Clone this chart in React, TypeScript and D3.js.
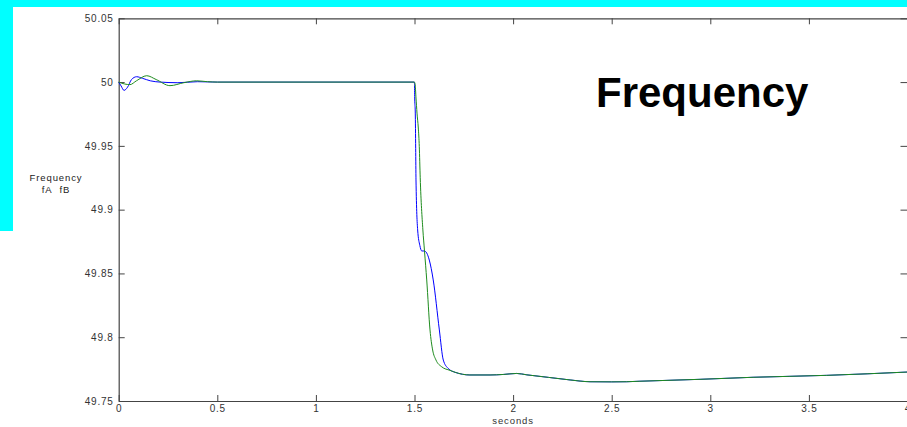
import { useEffect, useRef } from "react";
import * as d3 from "d3";

// fA (blue) - time in seconds, frequency in Hz
const timeA = [
  0, 0.012, 0.027, 0.045, 0.065, 0.091, 0.12, 0.16, 0.21, 0.3, 0.4, 0.5, 1.499,
  1.5, 1.501, 1.504, 1.506, 1.5076, 1.516, 1.527, 1.537, 1.55, 1.562, 1.575, 1.595,
  1.626, 1.646, 1.671, 1.706, 1.781, 1.883, 1.95, 2.018, 2.07, 2.18, 2.289, 2.39,
  2.5, 2.576, 2.643, 2.948, 3.217, 3.59, 4.0,
];
const freqA = [
  50, 49.997, 49.9935, 49.996, 50.002, 50.0042, 50.003, 50.001, 50.0, 49.9995, 50.0003, 50.0, 50.0,
  49.998, 49.9875, 49.9757, 49.948, 49.9233, 49.8841, 49.872, 49.8676, 49.8676, 49.866, 49.8605, 49.8449,
  49.8057, 49.7821, 49.7755, 49.7725, 49.7704, 49.7704, 49.7708, 49.7716, 49.7705, 49.7685, 49.7665, 49.7651,
  49.765, 49.7651, 49.7655, 49.767, 49.7686, 49.7701, 49.7727,
];

// fB (green)
const timeB = [
  0, 0.03, 0.057, 0.09, 0.142, 0.19, 0.26, 0.33, 0.395, 0.45, 0.5, 1.499,
  1.503, 1.5076, 1.5127, 1.5193, 1.5243, 1.529, 1.5425, 1.5507, 1.562, 1.5786, 1.592,
  1.609, 1.638, 1.68, 1.706, 1.781, 1.883, 1.95, 2.018, 2.07, 2.18, 2.289, 2.39,
  2.5, 2.576, 2.643, 2.948, 3.217, 3.59, 4.0,
];
const freqB = [
  50, 49.9985, 49.998, 50.001, 50.005, 50.002, 49.9972, 49.9995, 50.001, 50.0003, 50.0, 50.0,
  49.9985, 49.9875, 49.9757, 49.964, 49.9494, 49.925, 49.8841, 49.8676, 49.8449, 49.8057, 49.79,
  49.7821, 49.7768, 49.774, 49.7725, 49.7704, 49.7704, 49.7708, 49.7716, 49.7705, 49.7685, 49.7665, 49.7651,
  49.765, 49.7651, 49.7655, 49.767, 49.7686, 49.7701, 49.7727,
];

const xTicks = [0, 0.5, 1, 1.5, 2, 2.5, 3, 3.5, 4];
const yTicks = [49.75, 49.8, 49.85, 49.9, 49.95, 50, 50.05];

const W = 907;
const H = 427;

export default function App() {
  const svgRef = useRef<SVGSVGElement>(null);

  useEffect(() => {
    if (!svgRef.current) return;
    const svg = d3.select(svgRef.current);
    svg.selectAll("*").remove();

    const left = 118.7;
    const right = 907.5;
    const top = 18.3;
    const bottom = 401;

    const x = d3.scaleLinear().domain([0, 4]).range([left, right]);
    const y = d3.scaleLinear().domain([49.75, 50.05]).range([bottom, top]);

    // background + cyan frame
    svg.append("rect").attr("width", W).attr("height", H).attr("fill", "#ffffff");
    svg.append("rect").attr("width", W).attr("height", 7).attr("fill", "#00ffff");
    svg.append("rect").attr("width", 13).attr("height", 231).attr("fill", "#00ffff");

    const axisColor = "#444";
    const fmt = (d: d3.NumberValue) => String(d);

    // bottom axis
    const gx = svg
      .append("g")
      .attr("transform", `translate(0,${bottom})`)
      .call(d3.axisBottom(x).tickValues(xTicks).tickSizeInner(-6).tickSizeOuter(0).tickPadding(5).tickFormat(fmt));
    // top axis (ticks only)
    const gxt = svg
      .append("g")
      .attr("transform", `translate(0,${top})`)
      .call(d3.axisTop(x).tickValues(xTicks).tickSizeInner(-6).tickSizeOuter(0).tickFormat(() => ""));
    // left axis
    const gy = svg
      .append("g")
      .attr("transform", `translate(${left},0)`)
      .call(d3.axisLeft(y).tickValues(yTicks).tickSizeInner(-6).tickSizeOuter(0).tickPadding(5).tickFormat(fmt));
    // right axis (ticks only)
    const gyr = svg
      .append("g")
      .attr("transform", `translate(${right},0)`)
      .call(d3.axisRight(y).tickValues(yTicks).tickSizeInner(-7).tickSizeOuter(0).tickFormat(() => ""));

    [gx, gxt, gy, gyr].forEach((g) => {
      g.select(".domain").attr("stroke", axisColor).attr("stroke-width", 1.2);
      g.selectAll(".tick line").attr("stroke", axisColor);
      g.selectAll("text")
        .attr("fill", "#333")
        .attr("font-family", "Liberation Sans, Arial, sans-serif")
        .attr("font-size", 10)
        .attr("letter-spacing", 0.8);
    });
    gx.selectAll(".tick text").attr("dy", "0.6em");

    const line = d3
      .line<[number, number]>()
      .x((d) => x(d[0]))
      .y((d) => y(d[1]))
      .curve(d3.curveMonotoneX);

    const ptsA = timeA.map((t, i) => [t, freqA[i]] as [number, number]);
    const ptsB = timeB.map((t, i) => [t, freqB[i]] as [number, number]);

    svg.append("path").attr("d", line(ptsA)).attr("fill", "none").attr("stroke", "#0000ff").attr("stroke-width", 1);
    svg.append("path").attr("d", line(ptsB)).attr("fill", "none").attr("stroke", "#1e8c1e").attr("stroke-width", 1);

    // y label
    const yl = svg
      .append("text")
      .attr("text-anchor", "middle")
      .attr("font-family", "Liberation Sans, Arial, sans-serif")
      .attr("font-size", 9.5)
      .attr("letter-spacing", 0.9)
      .attr("fill", "#222");
    yl.append("tspan").attr("x", 56).attr("y", 181).text("Frequency");
    yl.append("tspan").attr("x", 56).attr("y", 193).text("fA\u00a0\u00a0fB");

    // x label
    svg
      .append("text")
      .attr("x", x(2))
      .attr("y", 424)
      .attr("text-anchor", "middle")
      .attr("font-family", "Liberation Sans, Arial, sans-serif")
      .attr("font-size", 9.5)
      .attr("letter-spacing", 0.9)
      .attr("fill", "#333")
      .text("seconds");

    // title
    svg
      .append("text")
      .attr("x", 596)
      .attr("y", 107)
      .attr("font-family", "Liberation Sans, Arial, sans-serif")
      .attr("font-weight", "bold")
      .attr("font-size", 42)
      .attr("fill", "#000")
      .text("Frequency");
  }, []);

  return (
    <svg
      ref={svgRef}
      width={W}
      height={H}
      style={{ position: "absolute", left: 0, top: 0, display: "block" }}
    />
  );
}
